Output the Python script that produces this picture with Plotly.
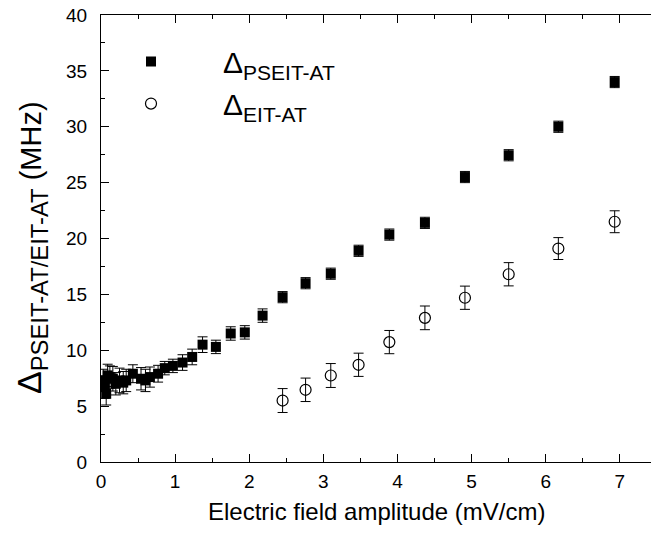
import plotly.graph_objects as go

# PSEIT-AT splitting (filled squares)
x_pseit = [0.03, 0.05, 0.07, 0.09, 0.12, 0.16, 0.20, 0.25, 0.30, 0.34, 0.43, 0.54, 0.60, 0.66,
           0.77, 0.86, 0.97, 1.10, 1.23, 1.37, 1.55, 1.75, 1.94, 2.18, 2.45, 2.76, 3.10, 3.475,
           3.89, 4.37, 4.91, 5.50, 6.17, 6.93]
y_pseit = [7.3, 6.7, 6.1, 7.75, 7.6, 7.45, 7.0, 7.3, 7.1, 7.3, 7.9, 7.45, 7.3, 7.6,
           7.9, 8.4, 8.6, 8.9, 9.4, 10.5, 10.3, 11.5, 11.6, 13.1, 14.75, 16.0, 16.85, 18.9,
           20.35, 21.4, 25.5, 27.45, 30.0, 34.0]
e_pseit = [1.0, 1.0, 1.0, 1.0, 1.0, 1.1, 1.0, 1.1, 1.0, 1.0, 0.8, 1.0, 1.0, 0.9,
           0.75, 0.6, 0.6, 0.7, 0.7, 0.7, 0.6, 0.6, 0.6, 0.6, 0.5, 0.5, 0.5, 0.5,
           0.5, 0.5, 0.5, 0.5, 0.5, 0.5]

# EIT-AT splitting (open circles)
x_eit = [2.45, 2.76, 3.10, 3.475, 3.89, 4.37, 4.91, 5.50, 6.17, 6.93]
y_eit = [5.5, 6.46, 7.74, 8.7, 10.73, 12.9, 14.7, 16.8, 19.1, 21.5]
e_eit = [1.07, 1.05, 1.07, 1.04, 1.04, 1.06, 1.04, 1.04, 0.98, 0.98]

FONT = "Liberation Sans, Arial, sans-serif"

fig = go.Figure()
fig.add_trace(go.Scatter(
    x=x_pseit, y=y_pseit, mode="markers", name="Δ<sub>PSEIT-AT</sub>",
    marker=dict(symbol="square", size=10, color="black", line=dict(width=0)),
    error_y=dict(type="data", array=e_pseit, color="black", thickness=1, width=5),
))
fig.add_trace(go.Scatter(
    x=x_eit, y=y_eit, mode="markers", name="Δ<sub>EIT-AT</sub>",
    marker=dict(symbol="circle-open", size=11, color="black", line=dict(width=1.2, color="black")),
    error_y=dict(type="data", array=e_eit, color="black", thickness=1, width=5),
))

W, H = 651, 533
ML, MR, MT, MB = 101, 0, 15, 71

fig.update_layout(
    width=W, height=H,
    margin=dict(l=ML, r=MR, t=MT, b=MB, pad=0),
    paper_bgcolor="white", plot_bgcolor="white",
    font=dict(family=FONT, color="black", size=19),
    showlegend=True,
    legend=dict(x=-0.04, y=0.954, xanchor="left", yanchor="top",
                font=dict(size=30, family=FONT), itemwidth=134,
                bgcolor="rgba(0,0,0,0)", tracegroupgap=0),
    xaxis=dict(range=[0, 7.42], showgrid=False, zeroline=False,
               showline=True, linecolor="black", linewidth=1.2, mirror="ticks",
               ticks="inside", ticklen=8, tickwidth=1.2, tickcolor="black",
               dtick=1, tick0=0, ticklabelstandoff=2,
               tickfont=dict(size=19, family=FONT),
               minor=dict(ticks="inside", ticklen=4, tickwidth=1.2, dtick=0.5, tick0=0, tickcolor="black")),
    yaxis=dict(range=[0, 40], showgrid=False, zeroline=False,
               showline=True, linecolor="black", linewidth=1.2,
               ticks="inside", ticklen=8, tickwidth=1.2, tickcolor="black",
               dtick=5, tick0=0, ticklabelstandoff=9,
               tickfont=dict(size=19, family=FONT),
               minor=dict(ticks="inside", ticklen=4, tickwidth=1.2, dtick=2.5, tick0=0, tickcolor="black")),
    yaxis2=dict(range=[0, 40], overlaying="y", side="right", showgrid=False, zeroline=False,
                showline=False, ticks="inside", ticklen=4, tickwidth=1.2, tickcolor="black",
                dtick=5, tick0=0, showticklabels=False),
    annotations=[
        dict(text="Electric field amplitude (mV/cm)", xref="paper", yref="paper",
             x=0.5, y=-(511 - (H - MB)) / (H - MT - MB), xanchor="center", yanchor="middle",
             showarrow=False, font=dict(size=24, family=FONT)),
        dict(text="<span style='font-size:34px'>Δ<sub>PSEIT-AT/EIT-AT</sub></span> (MHz)",
             xref="paper", yref="paper", textangle=-90,
             x=-(ML - 31) / (W - ML - MR), y=((H - MB) - 248) / (H - MT - MB),
             xanchor="center", yanchor="middle", showarrow=False,
             font=dict(size=29, family=FONT)),
    ],
)

fig.write_html("out.html")
